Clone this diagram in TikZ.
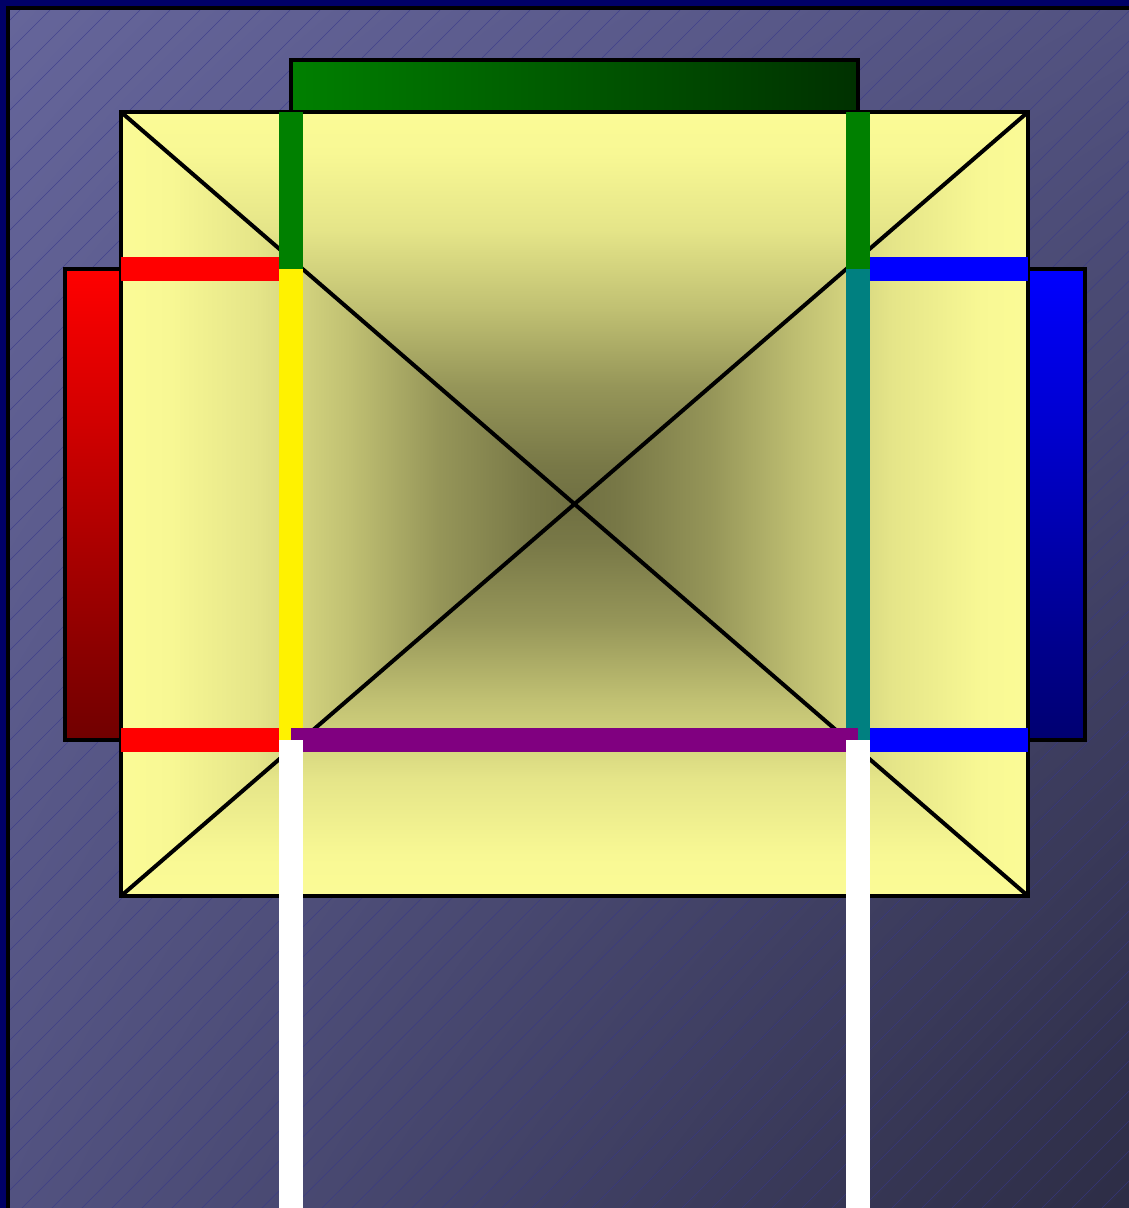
\documentclass[tikz,border=0pt]{standalone}
\usetikzlibrary{calc,shadings}
\definecolor{bgnavy}{RGB}{0,0,102}
\definecolor{bgtl}{RGB}{101,101,154}
\definecolor{bgmid}{RGB}{82,82,128}
\definecolor{bgbr}{RGB}{44,44,68}
\definecolor{hatch}{RGB}{55,55,140}
\definecolor{paleyellow}{RGB}{251,251,150}
\definecolor{darkolive}{RGB}{112,112,66}
\colorlet{fadeA}{paleyellow!98!darkolive}
\colorlet{fadeB}{paleyellow!84!darkolive}
\colorlet{fadeC}{paleyellow!58!darkolive}
\colorlet{fadeD}{paleyellow!27!darkolive}
\colorlet{fadeE}{paleyellow!6!darkolive}
\definecolor{wireteal}{RGB}{0,128,128}
\definecolor{wirepurple}{RGB}{128,0,128}
\pgfdeclarehorizontalshading{fadeleft}{100bp}{color(0bp)=(paleyellow); color(25bp)=(paleyellow);
  color(30bp)=(fadeA); color(40bp)=(fadeB); color(50bp)=(fadeC); color(60bp)=(fadeD);
  color(70bp)=(fadeE); color(75bp)=(darkolive); color(100bp)=(darkolive)}
\pgfdeclarehorizontalshading{faderight}{100bp}{color(0bp)=(darkolive); color(25bp)=(darkolive);
  color(30bp)=(fadeE); color(40bp)=(fadeD); color(50bp)=(fadeC); color(60bp)=(fadeB);
  color(70bp)=(fadeA); color(75bp)=(paleyellow); color(100bp)=(paleyellow)}
\pgfdeclareverticalshading{fadetop}{100bp}{color(0bp)=(darkolive); color(25bp)=(darkolive);
  color(30bp)=(fadeE); color(40bp)=(fadeD); color(50bp)=(fadeC); color(60bp)=(fadeB);
  color(70bp)=(fadeA); color(75bp)=(paleyellow); color(100bp)=(paleyellow)}
\pgfdeclareverticalshading{fadebottom}{100bp}{color(0bp)=(paleyellow); color(25bp)=(paleyellow);
  color(30bp)=(fadeA); color(40bp)=(fadeB); color(50bp)=(fadeC); color(60bp)=(fadeD);
  color(70bp)=(fadeE); color(75bp)=(darkolive); color(100bp)=(darkolive)}
\tikzset{
  framebox/.style={draw=black, line width=3pt},
  hatchline/.style={draw=hatch, line width=0.5pt, opacity=0.7},
  wire/.style={line width=18.4pt, line cap=butt},
  crossline/.style={draw=black, line width=3pt},
}
\begin{document}
\begin{tikzpicture}[x=0.75pt,y=-0.75pt]
  \useasboundingbox (0,0) rectangle (1129,1208);
  % background with hatching
  \fill[bgnavy] (0,0) rectangle (1129,1208);
  \begin{scope}
    \clip (8,8) rectangle (1140,1220);
    \shade[upper left=bgtl, upper right=bgmid, lower left=bgmid, lower right=bgbr] (8,8) rectangle (1140,1220);
    \foreach \c in {0,30,...,2520}
      \draw[hatchline] (\c,0) -- (\c-1300,1300);
  \end{scope}
  \draw[framebox] (8,8) rectangle (1140,1220);
  % key points
  \coordinate (nw) at (121,112);
  \coordinate (ne) at (1028,112);
  \coordinate (sw) at (121,896);
  \coordinate (se) at (1028,896);
  \coordinate (mid) at (575,504);
  \coordinate (ltop) at (291,112);
  \coordinate (lup) at (291,269);
  \coordinate (llow) at (291,740);
  \coordinate (lend) at (291,1230);
  \coordinate (rtop) at (858,112);
  \coordinate (rup) at (858,269);
  \coordinate (rlow) at (858,740);
  \coordinate (rend) at (858,1230);
  % side boxes
  \shade[left color=green!50!black, right color=green!19!black, framebox] (291,60) rectangle (rtop);
  \shade[top color=red, bottom color=red!44!black, framebox] (65,269) rectangle (121,740);
  \shade[top color=blue, bottom color=blue!44!black, framebox] (1028,269) rectangle (1085,740);
  % central box, four shaded triangles
  \shade[shading=fadetop] (nw) -- (ne) -- (mid) -- cycle;
  \shade[shading=fadebottom] (sw) -- (se) -- (mid) -- cycle;
  \shade[shading=fadeleft] (nw) -- (sw) -- (mid) -- cycle;
  \shade[shading=faderight] (ne) -- (se) -- (mid) -- cycle;
  \draw[framebox] (nw) rectangle (se);
  \draw[crossline] (nw) -- (se);
  \draw[crossline] (ne) -- (sw);
  % wires
  \draw[wire, green!50!black] (ltop) -- (lup);
  \draw[wire, green!50!black] (rtop) -- (rup);
  \draw[wire, red] (lup -| nw) -- ($(lup)+(-12.25,0)$);
  \draw[wire, red] (llow -| nw) -- ($(llow)+(-12.25,0)$);
  \draw[wire, blue] ($(rup)+(12.25,0)$) -- (rup -| ne);
  \draw[wire, blue] ($(rlow)+(12.25,0)$) -- (rlow -| ne);
  \draw[wire, yellow] (lup) -- (llow);
  \draw[wire, wireteal] (rup) -- (rlow);
  \draw[wire, wirepurple] (llow) -- (rlow);
  \draw[wire, white] (llow) -- (lend);
  \draw[wire, white] (rlow) -- (rend);
\end{tikzpicture}
\end{document}
